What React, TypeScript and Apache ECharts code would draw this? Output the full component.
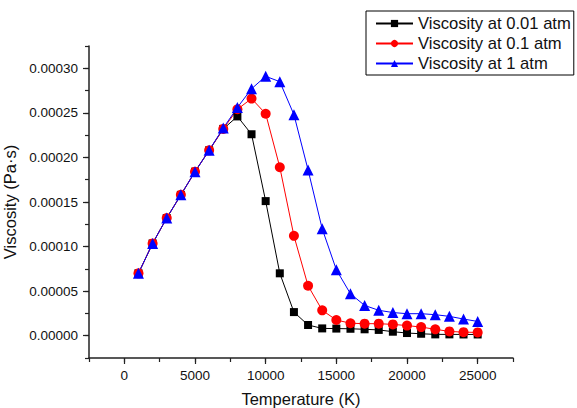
import React, { useEffect, useRef } from "react";
import * as echarts from "echarts";

const temperatures = [
  1000, 2000, 3000, 4000, 5000, 6000, 7000, 8000, 9000, 10000, 11000, 12000, 13000,
  14000, 15000, 16000, 17000, 18000, 19000, 20000, 21000, 22000, 23000, 24000, 25000,
];

const visc001 = [
  7.0e-5, 10.35e-5, 13.2e-5, 15.8e-5, 18.4e-5, 20.8e-5, 23.2e-5, 24.6e-5, 22.6e-5, 15.1e-5,
  7.0e-5, 2.65e-5, 1.2e-5, 0.82e-5, 0.8e-5, 0.78e-5, 0.72e-5, 0.65e-5, 0.45e-5, 0.3e-5,
  0.22e-5, 0.15e-5, 0.15e-5, 0.14e-5, 0.14e-5,
];

const visc01 = [
  7.0e-5, 10.35e-5, 13.2e-5, 15.8e-5, 18.4e-5, 20.8e-5, 23.2e-5, 25.4e-5, 26.6e-5, 24.9e-5,
  18.9e-5, 11.2e-5, 5.6e-5, 2.85e-5, 1.76e-5, 1.4e-5, 1.35e-5, 1.35e-5, 1.27e-5, 1.14e-5,
  0.97e-5, 0.72e-5, 0.48e-5, 0.4e-5, 0.37e-5,
];

const visc1 = [
  7.0e-5, 10.35e-5, 13.2e-5, 15.8e-5, 18.4e-5, 20.8e-5, 23.3e-5, 25.6e-5, 27.7e-5, 29.1e-5,
  28.5e-5, 24.8e-5, 18.6e-5, 12.0e-5, 7.4e-5, 4.7e-5, 3.4e-5, 2.85e-5, 2.6e-5, 2.47e-5,
  2.47e-5, 2.36e-5, 2.17e-5, 1.87e-5, 1.6e-5,
];

const xMajorTicks = [0, 5000, 10000, 15000, 20000, 25000];
const yMajorTicks = [0, 0.00005, 0.0001, 0.00015, 0.0002, 0.00025, 0.0003];

const seriesNames = ["Viscosity at 0.01 atm", "Viscosity at 0.1 atm", "Viscosity at 1 atm"];

const FONT = "'Liberation Sans', Arial, sans-serif";
const AXIS_COLOR = "#222";

export default function App() {
  const ref = useRef<HTMLDivElement>(null);

  useEffect(() => {
    if (!ref.current) return;
    const chart = echarts.init(ref.current, undefined, { renderer: "svg" });

    const pair = (ys: number[]) => temperatures.map((t, i) => [t, ys[i]]);

    const xBase = {
      type: "value",
      min: -2500,
      max: 27500,
      interval: 2500,
      splitLine: { show: false },
    };
    const yBase = {
      type: "value",
      min: -0.000025,
      max: 0.000325,
      interval: 0.000025,
      splitLine: { show: false },
    };

    chart.setOption({
      animation: false,
      textStyle: { fontFamily: FONT },
      grid: {
        left: 89,
        top: 46,
        right: 64,
        bottom: 50,
        containLabel: false,
        outerBoundsMode: "none",
      },
      legend: {
        orient: "vertical",
        left: 366,
        top: 11,
        padding: [3, 3, 2, 9],
        borderColor: "#000",
        borderWidth: 1,
        itemWidth: 37,
        itemHeight: 9,
        itemGap: 1,
        textStyle: { fontSize: 16.6, color: "#111", fontFamily: FONT, lineHeight: 19 },
        data: seriesNames,
      },
      xAxis: [
        {
          ...xBase,
          position: "bottom",
          name: "Temperature (K)",
          nameLocation: "middle",
          nameGap: 32,
          nameTextStyle: { fontSize: 16.5, color: "#111", fontFamily: FONT },
          axisLine: { show: true, onZero: false, lineStyle: { color: AXIS_COLOR, width: 1.5 } },
          axisTick: { show: true, length: 4, lineStyle: { color: AXIS_COLOR, width: 1.2 } },
          axisLabel: {
            fontSize: 13.5,
            color: "#111",
            fontFamily: FONT,
            margin: 10,
            formatter: (v: number) => {
              const k = Math.round(v / 2500);
              return k % 2 === 0 && v >= 0 && v <= 25000 ? String(Math.round(v)) : "";
            },
          },
        },
        {
          ...xBase,
          position: "bottom",
          axisLine: { show: false, onZero: false },
          axisTick: {
            show: true,
            length: 6,
            customValues: xMajorTicks,
            lineStyle: { color: AXIS_COLOR, width: 1.2 },
          },
          axisLabel: { show: false },
        },
      ],
      yAxis: [
        {
          ...yBase,
          position: "left",
          name: "Viscosity (Pa·s)",
          nameLocation: "middle",
          nameGap: 61,
          nameTextStyle: { fontSize: 16.5, color: "#111", fontFamily: FONT },
          axisLine: { show: true, onZero: false, lineStyle: { color: AXIS_COLOR, width: 1.5 } },
          axisTick: { show: true, length: 4, lineStyle: { color: AXIS_COLOR, width: 1.2 } },
          axisLabel: {
            fontSize: 13.5,
            color: "#111",
            fontFamily: FONT,
            margin: 11,
            formatter: (v: number) => {
              const k = Math.round(v / 0.000025);
              return k % 2 === 0 && k >= 0 && k <= 12 ? (k * 0.000025).toFixed(5) : "";
            },
          },
        },
        {
          ...yBase,
          position: "left",
          axisLine: { show: false, onZero: false },
          axisTick: {
            show: true,
            length: 6,
            customValues: yMajorTicks,
            lineStyle: { color: AXIS_COLOR, width: 1.2 },
          },
          axisLabel: { show: false },
        },
      ],
      series: [
        {
          name: seriesNames[0],
          type: "line",
          data: pair(visc001),
          symbol: "rect",
          symbolSize: 8,
          color: "#000000",
          lineStyle: { width: 1, color: "#000000" },
          itemStyle: { color: "#000000" },
        },
        {
          name: seriesNames[1],
          type: "line",
          data: pair(visc01),
          symbol: "circle",
          symbolSize: 10,
          color: "#ff0000",
          lineStyle: { width: 1, color: "#ff0000" },
          itemStyle: { color: "#ff0000" },
        },
        {
          name: seriesNames[2],
          type: "line",
          data: pair(visc1),
          symbol: "triangle",
          symbolSize: 11,
          color: "#0000ff",
          lineStyle: { width: 1, color: "#0000ff" },
          itemStyle: { color: "#0000ff" },
        },
      ],
    });

    return () => chart.dispose();
  }, []);

  return (
    <div
      ref={ref}
      style={{ position: "absolute", left: 0, top: 0, width: 577, height: 408, background: "#fff" }}
    />
  );
}
